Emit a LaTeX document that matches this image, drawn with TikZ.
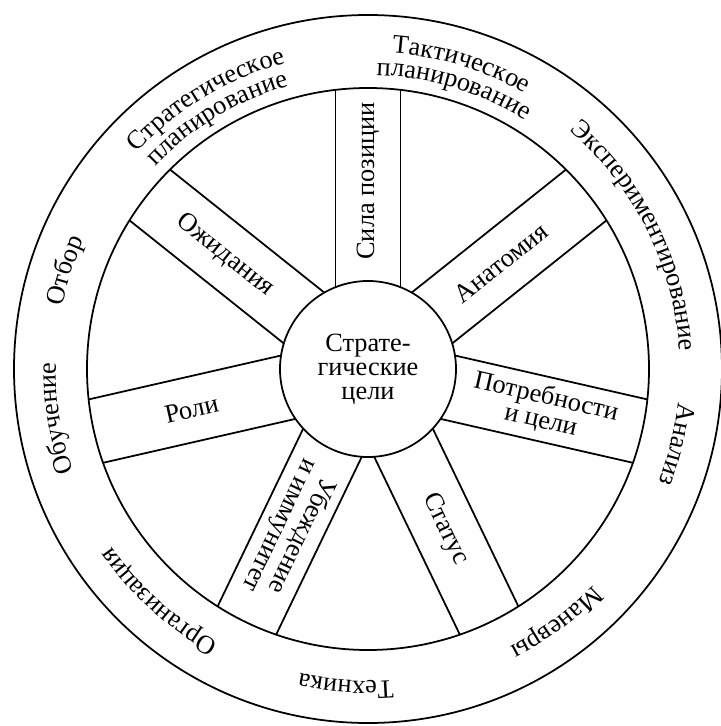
\documentclass[tikz,border=0pt]{standalone}
\usepackage{fontspec}
\setmainfont{Liberation Serif}
\usetikzlibrary{calc, decorations.text}

\newcommand{\rin}{1.76}
\newcommand{\rmid}{5.62}
\newcommand{\rout}{7.08}
\newcommand{\wheelfont}{\fontsize{15}{13.7}\selectfont}
% text on the rim, clockwise: radius, centre angle, text
\newcommand{\rimlabel}[3]{%
  \path[decorate, decoration={text along path, text align=center,
    text={|\wheelfont|#3}}]
    ({#2+50}:#1) arc[start angle={#2+50}, end angle={#2-50}, radius=#1];}

\begin{document}
\begin{tikzpicture}[line width=1pt,
    strip/.style={font=\wheelfont, align=center, inner sep=0pt}]
    \useasboundingbox (-7.36,-7.14) rectangle (7.05,7.38);

    \draw (0,0) circle (\rout);
    \draw (0,0) circle (\rmid);
    \node[circle, draw, minimum size=2*\rin cm, strip] (goal) at (0,0) {Страте-\\гические\\цели};

    % spokes
    \foreach \k in {0,...,6}{
        \pgfmathsetmacro{\a}{90-\k*360/7}
        \foreach \s in {-1,1}
            \draw ($({\a}:{sqrt(\rin*\rin-0.4225)})+({\a+90}:{\s*0.65})$)
               -- ($({\a}:{sqrt(\rmid*\rmid-0.4225)})+({\a+90}:{\s*0.65})$);
    }

    \node[strip, rotate=90] (sila) at (90:3.76) {Сила позиции};
    \node[strip, rotate=38.57] (anat) at (38.57:3.4) {Анатомия};
    \node[strip, rotate=-12.86] (potr) at (-12.86:3.6) {Потребности\\и цели};
    \node[strip, rotate=-64.29] (stat) at (-64.29:3.55) {Статус};
    \node[strip, rotate=-115.71] (ubezh) at (-115.71:3.58) {Убеждение\\и иммунитет};
    \node[strip, rotate=12.86] (roli) at (192.86:3.62) {Роли};
    \node[strip, rotate=-38.57] (ozhid) at (141.43:3.65) {Ожидания};

    % rim
    \rimlabel{6.34}{73}{Тактическое}
    \rimlabel{5.88}{73}{планирование}
    \rimlabel{6.24}{26.5}{Экспериментирование}
    \rimlabel{6.24}{-13.7}{Анализ}
    \rimlabel{6.24}{-53.4}{Маневры}
    \rimlabel{6.24}{-94}{Техника}
    \rimlabel{6.24}{-132}{Организация}
    \rimlabel{6.24}{189}{Обучение}
    \rimlabel{6.24}{162}{Отбор}
    \rimlabel{6.34}{121}{Стратегическое}
    \rimlabel{5.88}{121}{планирование}
\end{tikzpicture}
\end{document}
